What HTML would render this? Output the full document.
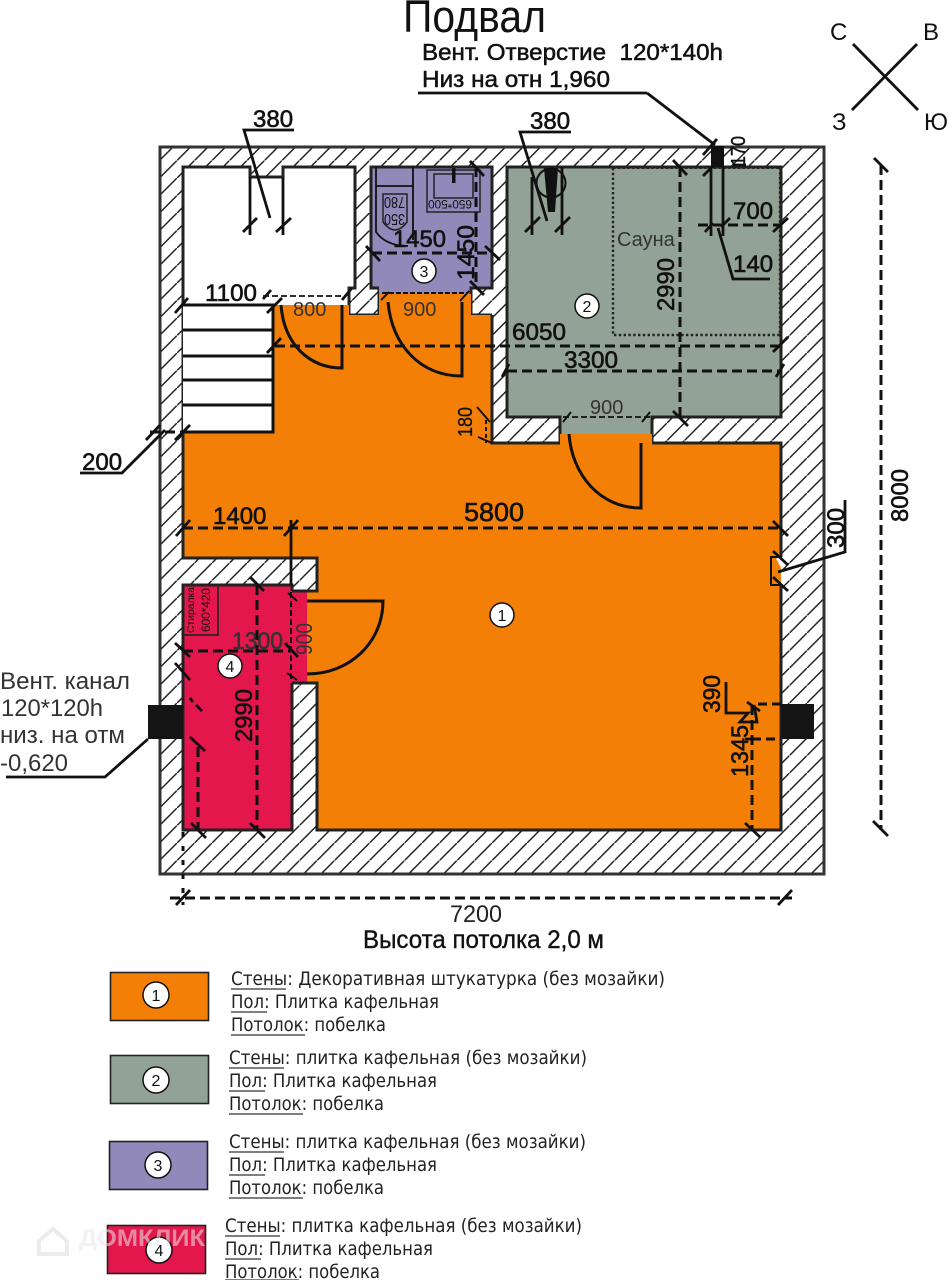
<!DOCTYPE html>
<html lang="ru"><head><meta charset="utf-8"><title>Подвал</title>
<style>
html,body{margin:0;padding:0;background:#fff}
svg{display:block}
text{font-family:"Liberation Sans",sans-serif;fill:#111}
.d{font-size:24px;stroke:#111;stroke-width:.6}
.g{font-size:20px;fill:#333}
.l{font-family:"DejaVu Sans","Liberation Sans",sans-serif;font-size:19px;fill:#222}
.k{fill:none;stroke:#111;stroke-width:3;stroke-dasharray:10 5}
.t{fill:none;stroke:#111;stroke-width:2.8}
.w{fill:none;stroke:#222;stroke-width:3}
.c{fill:#fff;stroke:#111;stroke-width:1.5}
.n{font-size:16px;text-anchor:middle}
.u{stroke:#333;stroke-width:1.2}
</style></head><body>
<svg xmlns="http://www.w3.org/2000/svg" width="948" height="1280" viewBox="0 0 948 1280">
<defs><pattern id="h" width="17.5" height="17.5" patternUnits="userSpaceOnUse" patternTransform="translate(2 3)">
<path d="M-2,19.5 L19.5,-2" stroke="#222" stroke-width="1.5" fill="none"/></pattern></defs>
<rect width="948" height="1280" fill="#fff"/>
<!-- walls -->
<rect x="160" y="147" width="664" height="727" fill="url(#h)" stroke="#333" stroke-width="3"/>
<!-- rooms -->
<polygon points="183,167 250,167 250,177 283,177 283,167 355,167 355,288 349,288 349,305 273,305 273,432 183,432" fill="#fff"/>
<polyline class="w" points="183,432 183,167 250,167 250,177 283,177 283,167 355,167 355,288 349,288 349,315 379,315 379,289"/>
<polygon points="371,167 492,167 492,288 471,288 471,294 379,294 379,288 371,288" fill="#9189b9"/>
<polyline class="w" points="379,288 371,288 371,167 492,167 492,288 471,288 471,315 492,315"/>
<polygon points="507,167 781,167 781,417 652,417 652,434 560,434 560,417 507,417" fill="#93a296"/>
<polyline class="w" points="560,443 560,417 507,417 507,167 781,167 781,417 652,417 652,443"/>
<polygon points="273,305 349,305 349,315 379,315 379,294 471,294 471,315 492,315 492,443 560,443 560,434 652,434 652,443 781,443 781,830 317,830 317,683 307,683 307,591 317,591 317,558 183,558 183,432 273,432" fill="#f47f06"/>
<polyline class="w" points="492,315 492,443 560,443"/>
<polyline class="w" points="652,443 781,443 781,557"/>
<polyline class="t" points="781,557 771,557 771,585 781,585" style="stroke-width:2"/>
<polygon points="776,558 781,558 781,568" fill="#fff"/>
<polyline class="w" points="781,585 781,830 317,830 317,683 292,683 292,830 183,830 183,585 292,585"/>
<polyline class="w" points="183,432 183,558 317,558 317,591 292,591"/>
<polygon points="183,585 292,585 292,592 307,592 307,683 292,683 292,830 183,830" fill="#e3174c"/>
<polyline class="w" points="292,683 292,830 183,830 183,585 292,585 292,591"/>
<polyline class="w" points="292,591 317,591 317,558"/>
<polyline class="w" points="292,683 317,683 317,830"/>
<!-- stairs -->
<path d="M183,305H273V432H183M183,330H273M183,356H273M183,380H273M183,405H273" fill="#fff" stroke="#111" stroke-width="3"/>
<path d="M183,305H273V432H183" class="t" style="stroke-width:3"/>
<!-- doors -->
<path d="M281,305 C284,345 310,368 342,368 V305" class="t" style="stroke-width:3"/>
<path d="M388,302 C392,345 420,376 462,376 V302" class="t" style="stroke-width:3"/>
<path d="M569,434 C572,475 600,508 641,508 V443" class="t" style="stroke-width:3"/>
<path d="M307,601 H383 C383,642 350,674 307,674" class="t" style="stroke-width:3"/>
<!-- toilet -->
<path d="M376,167 V232 Q386,246 408,246 M413,167 V240 M376,186 H413" class="t" style="stroke-width:1.8"/>
<path d="M383,194 H407 V222 Q395,238 383,222 Z" fill="none" stroke="#222" stroke-width="1.5"/>
<text font-size="16" transform="rotate(180 394.5 197)" x="384" y="197" textLength="21" lengthAdjust="spacingAndGlyphs">780</text>
<text font-size="16" transform="rotate(180 394.5 214)" x="384" y="214" textLength="21" lengthAdjust="spacingAndGlyphs">350</text>
<!-- sink -->
<rect x="427" y="170" width="53" height="42" fill="none" stroke="#222" stroke-width="1.5"/>
<rect x="434" y="174" width="39" height="24" fill="none" stroke="#222" stroke-width="1.5"/>
<rect x="452" y="168" width="3.5" height="15" fill="#111"/>
<text font-size="12" transform="rotate(180 450 200)" x="428" y="200" textLength="44" lengthAdjust="spacingAndGlyphs">650*500</text>
<!-- sauna -->
<path d="M613,168 V335 H780 V168" fill="none" stroke="#222" stroke-width="2.4" stroke-dasharray="2.4 2.4"/>
<path d="M613,168 H780" fill="none" stroke="#222" stroke-width="2" stroke-dasharray="2.4 2.4"/>
<text x="617" y="246" font-size="20" style="fill:#333">Сауна</text>
<circle cx="551" cy="183" r="14.5" fill="none" stroke="#111" stroke-width="2"/>
<polygon points="544,168 558,168 555,212 548,212" fill="#111"/>
<!-- vents -->
<rect x="711" y="146" width="13" height="21" fill="#111"/>
<rect x="148" y="705" width="35" height="34" fill="#141414"/>
<rect x="781" y="704" width="33" height="35" fill="#141414"/>
<!-- dims: left 380 -->
<path class="t" d="M250,177V235M283,177V235M243,232L257,218M276,232L291,218M294,130H244L270,218"/>
<text class="d" x="253" y="127">380</text>
<!-- right 380 -->
<path class="t" d="M532,177V235M562,167V235M525,232L540,217M555,232L570,217M571,132H520L547,221"/>
<text class="d" x="530" y="129">380</text>
<!-- 1100 -->
<path d="M263,296H345" class="k" style="stroke-width:1.8;stroke-dasharray:6 3"/>
<path class="t" d="M263,299L271,290M267,313L282,298M175,313L188,298M342,300L352,288"/>
<text class="d" x="205" y="301" textLength="52" lengthAdjust="spacingAndGlyphs">1100</text>
<text class="g" x="293" y="316">800</text><text class="g" x="403" y="316">900</text>
<!-- door 900 top -->
<path d="M382,293H468" class="k" style="stroke-width:2;stroke-dasharray:5 2"/>
<path class="t" d="M381,300L389,292M460,301L469,291" style="stroke-width:2"/>
<!-- 1450 -->
<path class="k" d="M372,253H492"/><path class="t" d="M366,246L380,261M485,246L500,260"/>
<text class="d" x="393" y="247" textLength="53" lengthAdjust="spacingAndGlyphs">1450</text>
<path class="k" d="M476,167V288"/><path class="t" d="M470,161L484,176M470,281L484,295"/>
<text class="d" transform="translate(474 280) rotate(-90)" textLength="55" lengthAdjust="spacingAndGlyphs">1450</text>
<!-- 6050 / 3300 -->
<path class="k" d="M275,346H781"/><path class="t" d="M267,353L281,338M773,352L788,337"/>
<text class="d" x="512" y="340" textLength="54" lengthAdjust="spacingAndGlyphs">6050</text>
<path class="k" d="M507,371H781"/><path class="t" d="M502,377L509,364M776,377L784,364"/>
<text class="d" x="564" y="368" textLength="54" lengthAdjust="spacingAndGlyphs">3300</text>
<!-- 2990 sauna -->
<path class="k" d="M680,167V418"/><path class="t" d="M673,160L687,175M673,411L688,426"/>
<text class="d" transform="translate(674 311) rotate(-90)" textLength="53" lengthAdjust="spacingAndGlyphs">2990</text>
<!-- 900 green -->
<path d="M563,417H650" class="k" style="stroke-width:1.8;stroke-dasharray:6 3"/>
<path class="t" d="M563,422L571,412M642,422L650,412" style="stroke-width:2"/>
<text class="g" x="590" y="414">900</text>
<!-- vent top dims -->
<path class="t" d="M711,167V236M723,167V236M703,155L717,139M703,176L717,162M733,165H746M647,93H418M647,93L715,145"/>
<text transform="translate(745 166) rotate(-90)" font-size="20" style="stroke:#111;stroke-width:.4" textLength="30" lengthAdjust="spacingAndGlyphs">170</text>
<path class="k" d="M698,225H781"/><path class="t" d="M705,232L713,223M721,227L730,218M773,232L788,218"/>
<text class="d" x="733" y="219">700</text>
<path class="t" d="M718,228L733,279H770"/>
<text class="d" x="733" y="272">140</text>
<!-- 180 -->
<path class="t" d="M477,407L490,422M478,437L492,443" style="stroke-width:2"/>
<path d="M486,420V443" class="k" style="stroke-dasharray:4 3;stroke-width:2"/>
<text transform="translate(472 437) rotate(-90)" font-size="20" style="stroke:#111;stroke-width:.3" textLength="30" lengthAdjust="spacingAndGlyphs">180</text>
<!-- 200 -->
<path class="t" d="M80,473H122L165,430M146,440L160,425M175,440L190,425"/>
<path class="k" d="M150,432H183"/>
<text class="d" x="82" y="470">200</text>
<!-- 1400/5800 -->
<path class="k" d="M183,528H781"/>
<path class="t" d="M176,536L190,520M284,536L298,520M773,521L788,536M291,520V585"/>
<text class="d" x="213" y="524">1400</text>
<text class="d" x="464" y="521" style="font-size:26px" textLength="60" lengthAdjust="spacingAndGlyphs">5800</text>
<!-- 300 -->
<path class="t" d="M773,551L788,565M773,577L788,591M778,572L845,552V500"/>
<text class="d" transform="translate(844 548) rotate(-90)">300</text>
<!-- 390/1345 -->
<path d="M758,704H781M752,739H781" class="k" style="stroke-dasharray:9 5"/>
<path d="M752,705V830" class="k"/>
<path class="t" d="M747,702L760,711M745,823L760,837M745,739H755M726,682V713H748L740,722H757L754,705"/>
<text class="d" transform="translate(720 713) rotate(-90)" textLength="38" lengthAdjust="spacingAndGlyphs">390</text>
<text class="d" transform="translate(748 777) rotate(-90)" textLength="52" lengthAdjust="spacingAndGlyphs">1345</text>
<!-- 8000 -->
<path class="k" d="M881,165V830"/><path class="t" d="M874,158L888,172M873,821L888,836"/>
<text class="d" transform="translate(908 522) rotate(-90)" textLength="53" lengthAdjust="spacingAndGlyphs">8000</text>
<!-- 7200 -->
<path class="k" d="M170,898H792"/><path class="t" d="M176,905L190,890M778,905L792,890"/>
<path class="k" d="M183,832V905" style="stroke-dasharray:5 9"/>
<text x="450" y="922" font-size="24" style="fill:#222" textLength="52" lengthAdjust="spacingAndGlyphs">7200</text>
<text x="363" y="948" font-size="25" textLength="241" lengthAdjust="spacingAndGlyphs" style="stroke:#111;stroke-width:.4">Высота потолка 2,0 м</text>
<!-- red room dims -->
<rect x="183" y="585" width="35" height="50" fill="none" stroke="#222" stroke-width="1.6"/>
<text font-size="10.5" transform="translate(194 633) rotate(-90)" textLength="46" lengthAdjust="spacingAndGlyphs">Стиралка</text>
<text font-size="11.5" transform="translate(210 632) rotate(-90)" textLength="44" lengthAdjust="spacingAndGlyphs">600*420</text>
<path class="k" d="M183,651H292"/><path class="t" d="M175,643L190,657M285,643L298,657"/>
<text class="d" x="232" y="649" style="fill:#333;stroke:#333" textLength="51" lengthAdjust="spacingAndGlyphs">1300</text>
<path class="k" d="M291,592V680" style="stroke-dasharray:6 3;stroke-width:2"/>
<path class="t" d="M288,593L297,601M287,673L297,680" style="stroke-width:2"/>
<text transform="translate(312 655) rotate(-90)" font-size="23" style="fill:#333" textLength="32" lengthAdjust="spacingAndGlyphs">900</text>
<path class="k" d="M257,585V830"/><path class="t" d="M250,577L264,591M250,823L265,838"/>
<text class="d" transform="translate(252 742) rotate(-90)" textLength="53" lengthAdjust="spacingAndGlyphs">2990</text>
<path class="k" d="M198,747V830"/><path class="t" d="M190,737L205,751M191,823L206,838M175,663L190,680M190,698L193,702M196,705L202,711"/>
<!-- vent left leader -->
<path class="t" d="M148,739L105,777H6"/>
<g font-size="24"><text x="0" y="689" style="fill:#333" textLength="130" lengthAdjust="spacingAndGlyphs">Вент. канал</text>
<text x="1" y="716" style="fill:#333" textLength="102" lengthAdjust="spacingAndGlyphs">120*120h</text>
<text x="0" y="743" style="fill:#333" textLength="125" lengthAdjust="spacingAndGlyphs">низ. на отм</text>
<text x="0" y="771" style="fill:#333" textLength="68" lengthAdjust="spacingAndGlyphs">-0,620</text></g>
<!-- room numbers -->
<circle class="c" cx="502" cy="615" r="12"/><text class="n" x="502" y="621">1</text>
<circle class="c" cx="587" cy="306" r="12"/><text class="n" x="587" y="312">2</text>
<circle class="c" cx="424" cy="271" r="12"/><text class="n" x="424" y="277">3</text>
<circle class="c" cx="230" cy="666" r="12"/><text class="n" x="230" y="672">4</text>
<!-- title -->
<text x="403" y="32" font-size="45" textLength="143" lengthAdjust="spacingAndGlyphs">Подвал</text>
<text x="422" y="60" font-size="23" textLength="301" lengthAdjust="spacingAndGlyphs" style="stroke:#111;stroke-width:.5" xml:space="preserve">Вент. Отверстие  120*140h</text>
<text x="422" y="87" font-size="23" textLength="188" lengthAdjust="spacingAndGlyphs" style="stroke:#111;stroke-width:.5">Низ на отн 1,960</text>
<!-- compass -->
<path class="t" d="M853,44L918,110M852,110L917,44"/>
<g font-size="24"><text x="830" y="40">С</text><text x="923" y="40">В</text><text x="832" y="130">З</text><text x="924" y="130" textLength="24" lengthAdjust="spacingAndGlyphs">Ю</text></g>
<!-- legend -->
<rect x="110.5" y="972.5" width="98" height="48" fill="#f47f06" stroke="#222" stroke-width="1.6"/>
<rect x="110.5" y="1055.5" width="98" height="48" fill="#93a296" stroke="#222" stroke-width="1.6"/>
<rect x="109.5" y="1141.5" width="98" height="48" fill="#9189b9" stroke="#222" stroke-width="1.6"/>
<rect x="107.5" y="1225.5" width="98" height="48" fill="#e3174c" stroke="#222" stroke-width="1.6"/>
<circle class="c" cx="156" cy="995" r="13"/><text class="n" x="156" y="1001">1</text>
<circle class="c" cx="156" cy="1080" r="13"/><text class="n" x="156" y="1086">2</text>
<circle class="c" cx="158" cy="1165" r="13"/><text class="n" x="158" y="1171">3</text>
<circle class="c" cx="159" cy="1250" r="13"/><text class="n" x="159" y="1256">4</text>
<text class="l" x="231" y="985" textLength="434" lengthAdjust="spacingAndGlyphs">Стены: Декоративная штукатурка (без мозайки)</text>
<text class="l" x="231" y="1008" textLength="208" lengthAdjust="spacingAndGlyphs">Пол: Плитка кафельная</text>
<text class="l" x="231" y="1031" textLength="155" lengthAdjust="spacingAndGlyphs">Потолок: побелка</text>
<path class="u" d="M231,989H286M231,1012H267M231,1035H305"/>
<text class="l" x="229" y="1064" textLength="358" lengthAdjust="spacingAndGlyphs">Стены: плитка кафельная (без мозайки)</text>
<text class="l" x="229" y="1087" textLength="208" lengthAdjust="spacingAndGlyphs">Пол: Плитка кафельная</text>
<text class="l" x="229" y="1110" textLength="155" lengthAdjust="spacingAndGlyphs">Потолок: побелка</text>
<path class="u" d="M229,1068H284M229,1091H265M229,1114H303"/>
<text class="l" x="229" y="1148" textLength="357" lengthAdjust="spacingAndGlyphs">Стены: плитка кафельная (без мозайки)</text>
<text class="l" x="229" y="1171" textLength="208" lengthAdjust="spacingAndGlyphs">Пол: Плитка кафельная</text>
<text class="l" x="229" y="1194" textLength="155" lengthAdjust="spacingAndGlyphs">Потолок: побелка</text>
<path class="u" d="M229,1152H284M229,1175H265M229,1198H303"/>
<text class="l" x="225" y="1232" textLength="357" lengthAdjust="spacingAndGlyphs">Стены: плитка кафельная (без мозайки)</text>
<text class="l" x="225" y="1255" textLength="208" lengthAdjust="spacingAndGlyphs">Пол: Плитка кафельная</text>
<text class="l" x="225" y="1278" textLength="155" lengthAdjust="spacingAndGlyphs">Потолок: побелка</text>
<path class="u" d="M225,1236H280M225,1259H261M225,1280H299"/>
<!-- watermark -->
<g opacity=".55"><path d="M39,1241L53,1229L67,1241V1254H39Z" fill="none" stroke="#ddd" stroke-width="4"/>
<text x="79" y="1246" font-size="24" font-weight="bold" style="fill:#e8e8e8" textLength="126" lengthAdjust="spacingAndGlyphs">ДОМКЛИК</text></g>
</svg>
</body></html>
